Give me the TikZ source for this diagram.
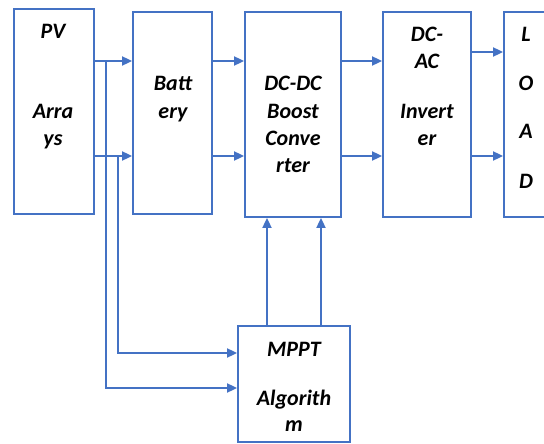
\documentclass[tikz,border=0pt]{standalone}
\usepackage{fontspec}
\setmainfont{Carlito}
\usetikzlibrary{arrows.meta}
\definecolor{lnblue}{HTML}{4472C4}
\begin{document}
\begin{tikzpicture}[x=1pt,y=-1pt,
  box/.style={draw=lnblue,line width=1.8pt,inner sep=0pt,fill=white},
  arr/.style={draw=lnblue,line width=1.8pt,-{Triangle[length=10pt,width=9pt]}},
  ln/.style={draw=lnblue,line width=1.8pt},
  lbl/.style={anchor=base,inner sep=0pt,font=\fontsize{22}{27}\selectfont\bfseries\itshape}]
\useasboundingbox (0,0) rectangle (544,444);
% boxes
\node[box,minimum width=80pt,minimum height=205pt] (pv) at (54,111.5) {};
\node[box,minimum width=79pt,minimum height=202pt] (bat) at (172.5,113) {};
\node[box,minimum width=96pt,minimum height=205pt] (dcdc) at (293,114.5) {};
\node[box,minimum width=88pt,minimum height=205pt] (dcac) at (427,114.5) {};
\node[box,minimum width=66pt,minimum height=205pt] (load) at (537,114.5) {};
\node[box,minimum width=112pt,minimum height=116pt] (mppt) at (294,384) {};
% reference coordinates
\coordinate (r0) at (0,52);
\coordinate (r1) at (0,61);
\coordinate (r2) at (0,156);
\coordinate (m1) at (0,353);
\coordinate (m2) at (0,388);
\coordinate (j1) at (106,61);
\coordinate (j2) at (118,156);
\coordinate (c1) at (267,0);
\coordinate (c2) at (321,0);
% connectors
\draw[arr] (pv.east |- r1) -- (bat.west |- r1);
\draw[arr] (pv.east |- r2) -- (bat.west |- r2);
\draw[arr] (bat.east |- r1) -- (dcdc.west |- r1);
\draw[arr] (bat.east |- r2) -- (dcdc.west |- r2);
\draw[arr] (dcdc.east |- r1) -- (dcac.west |- r1);
\draw[arr] (dcdc.east |- r2) -- (dcac.west |- r2);
\draw[arr] (dcac.east |- r0) -- (load.west |- r0);
\draw[arr] (dcac.east |- r2) -- (load.west |- r2);
\draw[arr] (j1) -- (j1 |- m2) -- (mppt.west |- m2);
\draw[arr] (j2) -- (j2 |- m1) -- (mppt.west |- m1);
\draw[arr] (mppt.north -| c1) -- (dcdc.south -| c1);
\draw[arr] (mppt.north -| c2) -- (dcdc.south -| c2);
% labels
\node[lbl] (t1) at (53,39) {PV};
\node[lbl] (t2) at (53,118) {Arra};
\node[lbl] (t3) at (53,145) {ys};
\node[lbl] (t4) at (173,91) {Batt};
\node[lbl] (t5) at (173,118) {ery};
\node[lbl] (t6) at (293,91) {DC-DC};
\node[lbl] (t7) at (293,118) {Boost};
\node[lbl] (t8) at (293,145) {Conve};
\node[lbl] (t9) at (293,172) {rter};
\node[lbl] (t10) at (427,42) {DC-};
\node[lbl] (t11) at (427,69) {AC};
\node[lbl] (t12) at (427,118) {Invert};
\node[lbl] (t13) at (427,145) {er};
\node[lbl] (t14) at (526,42) {L};
\node[lbl] (t15) at (526,91) {O};
\node[lbl] (t16) at (526,139) {A};
\node[lbl] (t17) at (526,188) {D};
\node[lbl] (t18) at (294,356) {MPPT};
\node[lbl] (t19) at (294,405) {Algorith};
\node[lbl] (t20) at (294,431) {m};
\end{tikzpicture}
\end{document}
